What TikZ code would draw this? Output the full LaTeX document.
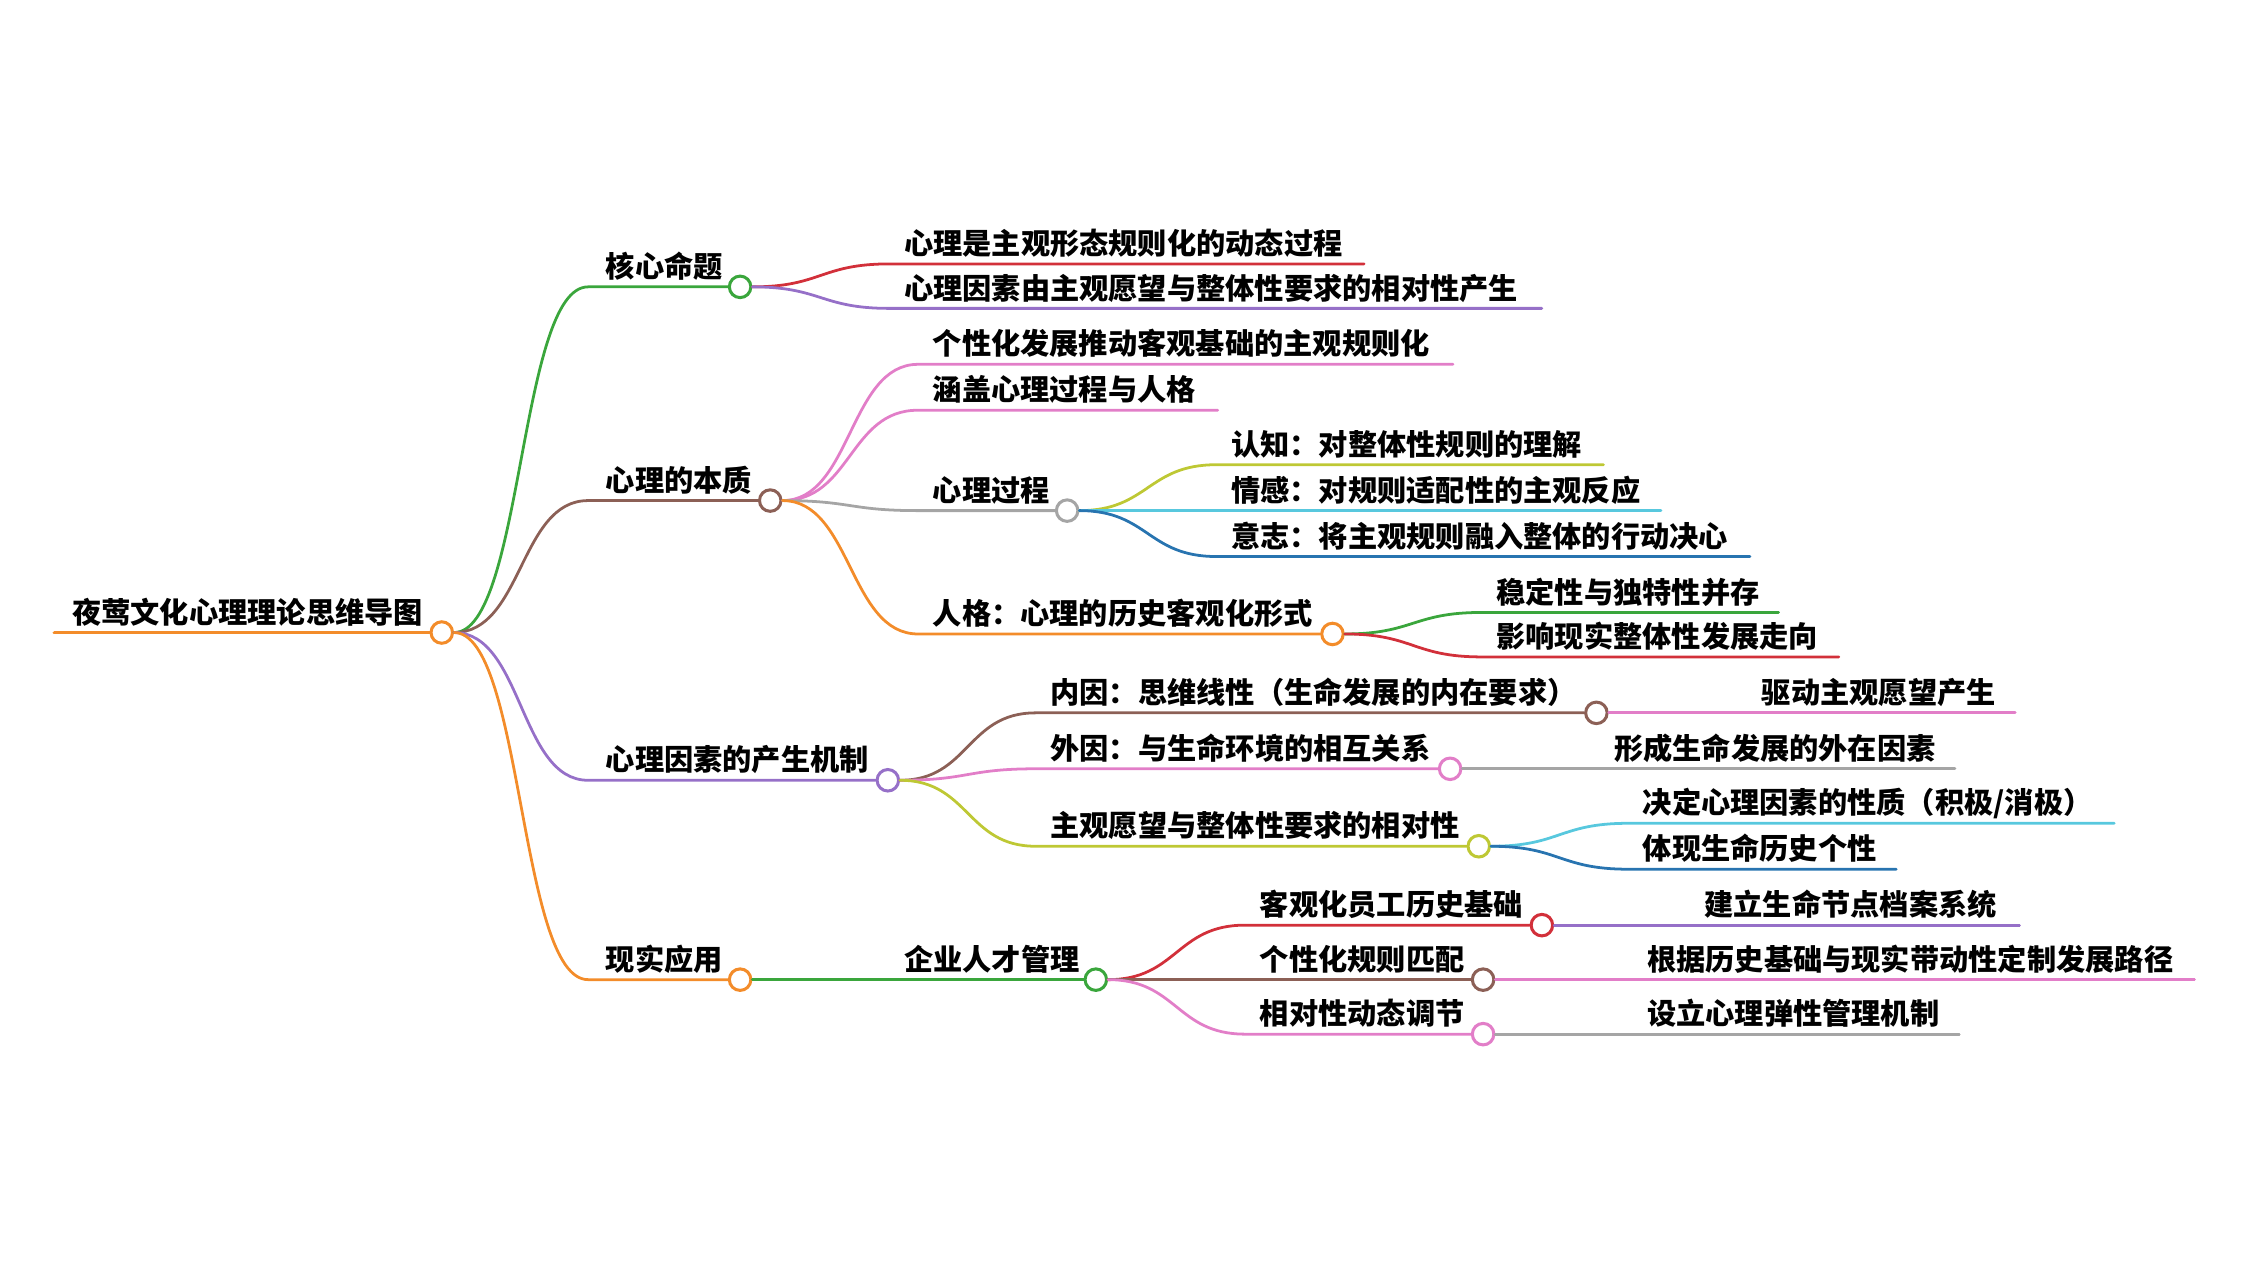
\documentclass[tikz,border=0pt]{standalone}
\usepackage{fontspec}
\newfontfamily\cjk{Noto Sans CJK SC}
\definecolor{corange}{RGB}{243,140,42}
\definecolor{cgreen}{RGB}{58,166,60}
\definecolor{cbrown}{RGB}{140,96,86}
\definecolor{cpurple}{RGB}{150,112,200}
\definecolor{cred}{RGB}{210,48,58}
\definecolor{cpink}{RGB}{226,126,200}
\definecolor{cgray}{RGB}{165,165,165}
\definecolor{colive}{RGB}{190,200,52}
\definecolor{ccyan}{RGB}{88,200,222}
\definecolor{cblue}{RGB}{40,116,176}
\begin{document}
\begin{tikzpicture}[x=0.02cm,y=-0.02cm,every node/.append style={font=\cjk\bfseries\fontsize{11.6}{14}\selectfont},
  br/.style={line width=1.1pt,line cap=round},
  lnk/.style={to path={.. controls +(48,0) and +(-48,0) .. (\tikztotarget)}},
  dot/.style={circle,draw=#1,fill=white,line width=1.2pt,minimum size=0.3cm,inner sep=0pt},
  lbl/.style={anchor=base west,inner sep=0pt}]
  \useasboundingbox (0,0) rectangle (1568,892);
  % root
  \coordinate(R0)at(38,441);
  \node[dot=corange](R)at(308,441){};
  \node[lbl](Rt)at(50,434.5){夜莺文化心理理论思维导图};
  \draw[br,corange,line width=1.5pt](R0)--(R);
  % first level
  \coordinate(K0)at(410,200);
  \coordinate(B0)at(410,349);
  \coordinate(J0)at(410,544);
  \coordinate(Y0)at(410,683);
  \node[dot=cgreen](K)at(516,200){};
  \node[dot=cbrown](B)at(537,349){};
  \node[dot=cpurple](J)at(619,544){};
  \node[dot=corange](Y)at(516,683){};
  \node[lbl](Kt)at(422,193.5){核心命题};
  \node[lbl](Bt)at(422,342.5){心理的本质};
  \node[lbl](Jt)at(422,537.5){心理因素的产生机制};
  \node[lbl](Yt)at(422,676.5){现实应用};
  \draw[br,cgreen](R.east)to[lnk](K0)--(K);
  \draw[br,cbrown](R.east)to[lnk](B0)--(B);
  \draw[br,cpurple](R.east)to[lnk](J0)--(J);
  \draw[br,corange](R.east)to[lnk](Y0)--(Y);
  % core thesis
  \coordinate(K1)at(620,184);\coordinate(K1e)at(951,184);
  \coordinate(K2)at(620,215);\coordinate(K2e)at(1075,215);
  \node[lbl](K1t)at(630,177.5){心理是主观形态规则化的动态过程};
  \node[lbl](K2t)at(630,208.5){心理因素由主观愿望与整体性要求的相对性产生};
  \draw[br,cred](K.east)to[lnk](K1)--(K1e);
  \draw[br,cpurple](K.east)to[lnk](K2)--(K2e);
  % nature
  \coordinate(B1)at(640,254);\coordinate(B1e)at(1013,254);
  \coordinate(B2)at(640,286);\coordinate(B2e)at(849,286);
  \coordinate(B3)at(640,356);
  \coordinate(B4)at(640,442);
  \node[dot=cgray](P)at(744,356){};
  \node[dot=corange](G)at(929,442){};
  \node[lbl](B1t)at(650,247.5){个性化发展推动客观基础的主观规则化};
  \node[lbl](B2t)at(650,279.5){涵盖心理过程与人格};
  \node[lbl](Pt)at(650,349.5){心理过程};
  \node[lbl](Gt)at(650,435.5){人格：心理的历史客观化形式};
  \draw[br,cpink](B.east)to[lnk](B1)--(B1e);
  \draw[br,cpink](B.east)to[lnk](B2)--(B2e);
  \draw[br,cgray](B.east)to[lnk](B3)--(P);
  \draw[br,corange](B.east)to[lnk](B4)--(G);
  % process
  \coordinate(P1)at(848,324);\coordinate(P1e)at(1118,324);
  \coordinate(P2)at(848,356);\coordinate(P2e)at(1158,356);
  \coordinate(P3)at(848,388);\coordinate(P3e)at(1220,388);
  \node[lbl](P1t)at(858,317.5){认知：对整体性规则的理解};
  \node[lbl](P2t)at(858,349.5){情感：对规则适配性的主观反应};
  \node[lbl](P3t)at(858,381.5){意志：将主观规则融入整体的行动决心};
  \draw[br,colive](P.east)to[lnk](P1)--(P1e);
  \draw[br,ccyan](P.east)to[lnk](P2)--(P2e);
  \draw[br,cblue](P.east)to[lnk](P3)--(P3e);
  % personality
  \coordinate(G1)at(1033,427);\coordinate(G1e)at(1240,427);
  \coordinate(G2)at(1033,458);\coordinate(G2e)at(1282,458);
  \node[lbl](G1t)at(1043,420.5){稳定性与独特性并存};
  \node[lbl](G2t)at(1043,451.5){影响现实整体性发展走向};
  \draw[br,cgreen](G.east)to[lnk](G1)--(G1e);
  \draw[br,cred](G.east)to[lnk](G2)--(G2e);
  % mechanism
  \coordinate(J1)at(722,497);
  \coordinate(J2)at(722,536);
  \coordinate(J3)at(722,590);
  \node[dot=cbrown](N)at(1113,497){};
  \node[dot=cpink](W)at(1011,536){};
  \node[dot=colive](X)at(1031,590){};
  \node[lbl](Nt)at(732,490.5){内因：思维线性（生命发展的内在要求）};
  \node[lbl](Wt)at(732,529.5){外因：与生命环境的相互关系};
  \node[lbl](Xt)at(732,583.5){主观愿望与整体性要求的相对性};
  \draw[br,cbrown](J.east)to[lnk](J1)--(N);
  \draw[br,cpink](J.east)to[lnk](J2)--(W);
  \draw[br,colive](J.east)to[lnk](J3)--(X);
  \coordinate(Ne)at(1405,497);
  \coordinate(We)at(1363,536);
  \node[lbl](N1t)at(1228,490.5){驱动主观愿望产生};
  \node[lbl](W1t)at(1125,529.5){形成生命发展的外在因素};
  \draw[br,cpink](N)--(Ne);
  \draw[br,cgray](W)--(We);
  \coordinate(X1)at(1135,574);\coordinate(X1e)at(1474,574);
  \coordinate(X2)at(1135,606);\coordinate(X2e)at(1322,606);
  \node[lbl](X1t)at(1145,567.5){决定心理因素的性质（积极/消极）};
  \node[lbl](X2t)at(1145,599.5){体现生命历史个性};
  \draw[br,ccyan](X.east)to[lnk](X1)--(X1e);
  \draw[br,cblue](X.east)to[lnk](X2)--(X2e);
  % application
  \node[dot=cgreen](M)at(764,683){};
  \node[lbl](Mt)at(630,676.5){企业人才管理};
  \draw[br,cgreen](Y)--(M);
  \coordinate(M1)at(868,645);
  \coordinate(M2)at(868,683);
  \coordinate(M3)at(868,721);
  \node[dot=cred](E1)at(1075,645){};
  \node[dot=cbrown](E2)at(1034,683){};
  \node[dot=cpink](E3)at(1034,721){};
  \node[lbl](E1t)at(878,638.5){客观化员工历史基础};
  \node[lbl](E2t)at(878,676.5){个性化规则匹配};
  \node[lbl](E3t)at(878,714.5){相对性动态调节};
  \draw[br,cred](M.east)to[lnk](M1)--(E1);
  \draw[br,cbrown](M.east)to[lnk](M2)--(E2);
  \draw[br,cpink](M.east)to[lnk](M3)--(E3);
  \coordinate(E1e)at(1408,645);
  \coordinate(E2e)at(1530,683);
  \coordinate(E3e)at(1366,721);
  \node[lbl](F1t)at(1188,638.5){建立生命节点档案系统};
  \node[lbl](F2t)at(1148,676.5){根据历史基础与现实带动性定制发展路径};
  \node[lbl](F3t)at(1148,714.5){设立心理弹性管理机制};
  \draw[br,cpurple](E1)--(E1e);
  \draw[br,cpink](E2)--(E2e);
  \draw[br,cgray](E3)--(E3e);
\end{tikzpicture}
\end{document}
